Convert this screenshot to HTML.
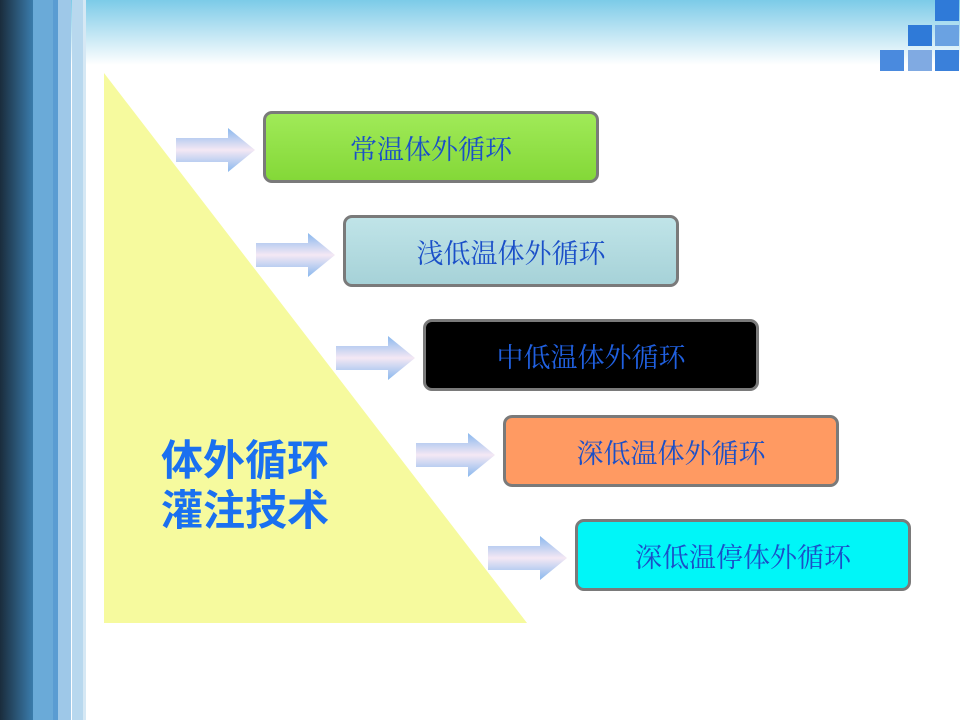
<!DOCTYPE html>
<html><head><meta charset="utf-8"><style>
body{margin:0;width:960px;height:720px;position:relative;overflow:hidden;background:#fff;font-family:"Liberation Sans","Noto Sans CJK SC",sans-serif}
div{position:absolute}
.b{box-sizing:border-box;border:3px solid #7a7a7a;border-radius:9px;width:336px;height:72px;display:flex;align-items:center;justify-content:center;font-size:27px;color:#1a4fc8;font-family:"Liberation Serif","Noto Serif CJK SC",serif}
.sq{width:24px;height:21px}
</style></head><body>
<div style="left:0;top:0;width:960px;height:65px;background:linear-gradient(#7ccbe8,#b8e2f2 45%,#fff)"></div>
<div style="left:0;top:0;width:33px;height:720px;background:linear-gradient(90deg,#1a2c3c,#3a7cac)"></div>
<div style="left:33px;top:0;width:20px;height:720px;background:#6aaad8"></div>
<div style="left:53px;top:0;width:5px;height:720px;background:#5a9cd2"></div>
<div style="left:58px;top:0;width:13px;height:720px;background:#9ec8e8"></div>
<div style="left:72px;top:0;width:11px;height:720px;background:#b8d8ee"></div>
<div style="left:83px;top:0;width:3px;height:720px;background:#d6e8f4"></div>
<div class="sq" style="left:935px;top:0;background:#2f7ad8"></div>
<div class="sq" style="left:908px;top:25px;background:#2f7ad8"></div>
<div class="sq" style="left:935px;top:25px;background:#6aa2e2"></div>
<div class="sq" style="left:880px;top:50px;background:#4a8ade"></div>
<div class="sq" style="left:908px;top:50px;background:#80aae2"></div>
<div class="sq" style="left:935px;top:50px;background:#3a80da"></div>
<svg style="position:absolute;left:0;top:0" width="960" height="720">
<defs><linearGradient id="g" x1="0" y1="0" x2="0" y2="1"><stop offset="0" stop-color="#8ab8ee"/><stop offset=".5" stop-color="#f4e8f4"/><stop offset="1" stop-color="#8ab8ee"/></linearGradient>
<g id="a"><polygon points="0,-12 52,-12 52,-22 79,0 52,22 52,12 0,12" fill="url(#g)"/></g></defs>
<polygon points="104,73 104,623 527,623" fill="#f6fa9e"/>
<use href="#a" x="176" y="150"/>
<use href="#a" x="256" y="255"/>
<use href="#a" x="336" y="358"/>
<use href="#a" x="416" y="455"/>
<use href="#a" x="488" y="558"/>
</svg>
<div style="left:161px;top:436px;font-size:42px;font-weight:bold;line-height:50px;color:#1a70f0">体外循环<br>灌注技术</div>
<div class="b" style="left:263px;top:111px;background:linear-gradient(#a0ea58,#84d838)">常温体外循环</div>
<div class="b" style="left:343px;top:215px;background:linear-gradient(#c0e4e8,#a6d2d8)">浅低温体外循环</div>
<div class="b" style="left:423px;top:319px;background:#000;color:#2060e0">中低温体外循环</div>
<div class="b" style="left:503px;top:415px;background:#ff9a62">深低温体外循环</div>
<div class="b" style="left:575px;top:519px;background:#00f6f8">深低温停体外循环</div>
</body></html>
